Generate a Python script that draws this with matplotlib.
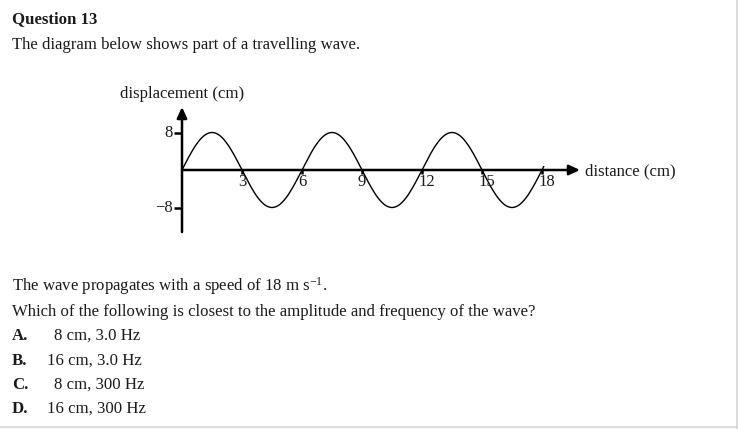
import numpy as np
import matplotlib
matplotlib.use("Agg")
import matplotlib.pyplot as plt
from matplotlib.lines import Line2D

plt.rcParams['font.family'] = ['Liberation Serif', 'DejaVu Serif']
plt.rcParams['mathtext.fontset'] = 'custom'
plt.rcParams['mathtext.rm'] = 'Liberation Serif'
plt.rcParams['mathtext.it'] = 'Liberation Serif:italic'

# ---- data ----
amplitude_cm = 8
wavelength_cm = 6
wave_end_cm = 18.1
x_ticks = [3, 6, 9, 12, 15, 18]
y_ticks = [8, -8]
y_tick_labels = ['8', '\u22128']
title = 'Question 13'
intro = 'The diagram below shows part of a travelling wave.'
ylabel = 'displacement (cm)'
xlabel = 'distance (cm)'
q_line1 = 'The wave propagates with a speed of 18 m s$^{-1}$.'
q_line2 = 'Which of the following is closest to the amplitude and frequency of the wave?'
option_letters = ['A.', 'B.', 'C.', 'D.']
option_texts = ['8 cm, 3.0 Hz', '16 cm, 3.0 Hz', '8 cm, 300 Hz', '16 cm, 300 Hz']

W, H = 738, 429
fig = plt.figure(figsize=(W / 100, H / 100), dpi=100)
fig.patch.set_facecolor('white')
TXT = '#1a1a1a'
FS = 12.1


def fx(x):
    return x / W


def fy(y):
    return 1 - y / H


# text blocks
fig.text(fx(12), fy(23), title, fontsize=FS, fontweight='bold', color=TXT, va='baseline')
fig.text(fx(12), fy(49), intro, fontsize=FS, color=TXT, va='baseline')
fig.text(fx(120), fy(98), ylabel, fontsize=FS, color=TXT, va='baseline')
fig.text(fx(585), fy(175), xlabel, fontsize=FS, color=TXT, va='baseline')
fig.text(fx(12), fy(291), q_line1, fontsize=FS, color=TXT, va='baseline')
fig.text(fx(12), fy(316), q_line2, fontsize=FS, color=TXT, va='baseline')
opt_y = [340, 365, 389, 413]
for letter, txt, yy in zip(option_letters, option_texts, opt_y):
    fig.text(fx(12), fy(yy), letter, fontsize=FS, fontweight='bold', color=TXT, va='baseline')
    xs = 54 if txt.startswith('8') else 47
    fig.text(fx(xs), fy(yy), txt, fontsize=FS, color=TXT, va='baseline')

# border lines (right and bottom)
fig.add_artist(Line2D([fx(736.5), fx(736.5)], [0, 1], transform=fig.transFigure, color='#d4d4d4', lw=1.2))
fig.add_artist(Line2D([0, 1], [fy(427.0), fy(427.0)], transform=fig.transFigure, color='#d4d4d4', lw=1.2))

# wave axes: x=0 at px 182, 20 px per cm; y=0 at px 170, 4.6875 px per cm
px_per_cm_x = 20.0
px_per_cm_y = 37.5 / 8
left_px, right_px, top_px, bot_px = 182, 590, 100, 236
ax = fig.add_axes([fx(left_px), fy(bot_px), (right_px - left_px) / W, (bot_px - top_px) / H])
ax.set_xlim(0, (right_px - left_px) / px_per_cm_x)
ax.set_ylim(-(bot_px - 170) / px_per_cm_y, (170 - top_px) / px_per_cm_y)
ax.axis('off')

x_tip = (580 - 182) / px_per_cm_x
y_tip = (170 - 107) / px_per_cm_y
y_bot = -(232 - 170) / px_per_cm_y

ax.annotate('', xy=(x_tip, 0), xytext=(0, 0),
            arrowprops=dict(arrowstyle='-|>,head_length=0.65,head_width=0.3', lw=1.8, color='black',
                            shrinkA=0, shrinkB=0), annotation_clip=False)
ax.annotate('', xy=(0, y_tip), xytext=(0, y_bot),
            arrowprops=dict(arrowstyle='-|>,head_length=0.65,head_width=0.3', lw=1.8, color='black',
                            shrinkA=0, shrinkB=0), annotation_clip=False)

# wave
xw = np.linspace(0, wave_end_cm, 800)
yw = amplitude_cm * np.sin(2 * np.pi * xw / wavelength_cm)
ax.plot(xw, yw, color='black', lw=1.0, clip_on=False, solid_capstyle='butt')

# ticks
for t in x_ticks:
    ax.plot([t, t], [0, -4 / px_per_cm_y], color='black', lw=1.8, clip_on=False, solid_capstyle='butt')
    ax.annotate(str(t), xy=(t, 0), xytext=(-4, -4), textcoords='offset pixels',
                ha='left', va='top', fontsize=12, color=TXT, annotation_clip=False)
for t, lab in zip(y_ticks, y_tick_labels):
    ax.plot([-8 / px_per_cm_x, 0], [t, t], color='black', lw=1.8, clip_on=False, solid_capstyle='butt')
    ax.annotate(lab, xy=(0, t), xytext=(-9, 0), textcoords='offset pixels',
                ha='right', va='center', fontsize=12, color=TXT, annotation_clip=False)

fig.savefig('out.png', dpi=100, facecolor='white')
